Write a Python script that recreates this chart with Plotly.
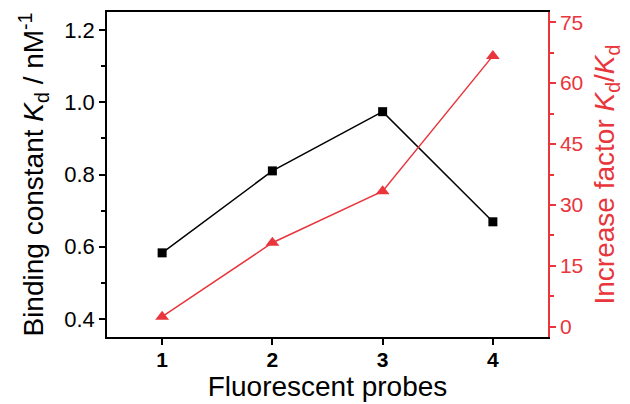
import plotly.graph_objects as go

probes = [1, 2, 3, 4]
kd_values = [0.583, 0.81, 0.974, 0.669]
increase_factor = [2.5, 20.7, 33.4, 66.7]
x_ticks = [1, 2, 3, 4]
left_ticks = [0.4, 0.6, 0.8, 1.0, 1.2]
right_ticks = [0, 15, 30, 45, 60, 75]

FONT = "Arial, Liberation Sans, sans-serif"
RED = "#e8363c"

fig = go.Figure()
fig.add_trace(go.Scatter(
    x=probes, y=kd_values, mode="lines+markers",
    line=dict(color="black", width=1.5),
    marker=dict(symbol="square", size=9, color="black"),
    yaxis="y", showlegend=False))
fig.add_trace(go.Scatter(
    x=probes, y=increase_factor, mode="lines+markers",
    line=dict(color=RED, width=1.5),
    marker=dict(symbol="triangle-up", size=12, color=RED),
    yaxis="y2", showlegend=False))

fig.update_layout(
    width=622, height=396,
    margin=dict(l=99, r=82, t=4, b=67, autoexpand=False),
    paper_bgcolor="white", plot_bgcolor="white",
    font=dict(family=FONT, color="black"),
    xaxis=dict(
        range=[0.5, 4.5], tickvals=x_ticks, ticktext=[f"<b>{v}</b>" for v in x_ticks],
        showline=True, linecolor="black", linewidth=1.5, mirror=True,
        ticks="outside", ticklen=6, tickwidth=1.5, tickcolor="black",
        ticklabelstandoff=-3,
        tickfont=dict(size=21, family=FONT, color="black"),
        showgrid=False, zeroline=False,
        title=dict(text="Fluorescent probes", font=dict(size=28, family=FONT), standoff=4),
    ),
    yaxis=dict(
        range=[0.35, 1.25], tickvals=left_ticks,
        ticktext=["0.4", "0.6", "0.8", "1.0", "1.2"],
        showline=True, linecolor="black", linewidth=1.5,
        ticks="outside", ticklen=6, tickwidth=1.5, tickcolor="black",
        minor=dict(dtick=0.1, tick0=0.4, ticks="outside", ticklen=4, tickwidth=1.5, tickcolor="black"),
        tickfont=dict(size=22, family=FONT, color="black"),
        showgrid=False, zeroline=False,
        title=dict(text="Binding constant <i>K</i><sub>d</sub> / nM<sup>-1</sup>",
                   font=dict(size=28, family=FONT), standoff=12),
    ),
    yaxis2=dict(
        range=[-2.5, 77.5], tickvals=right_ticks,
        overlaying="y", side="right", anchor="x",
        showline=True, linecolor=RED, linewidth=1.5,
        ticks="outside", ticklen=6, tickwidth=1.5, tickcolor=RED,
        minor=dict(dtick=7.5, tick0=0, ticks="outside", ticklen=4, tickwidth=1.5, tickcolor=RED),
        tickfont=dict(size=21, family=FONT, color=RED),
        showgrid=False, zeroline=False,
        title=dict(text="Increase factor <i>K</i><sub>d</sub>/<i>K</i><sub>d</sub>",
                   font=dict(size=28, family=FONT, color=RED), standoff=12),
    ),
)

fig.write_html("out.html")
